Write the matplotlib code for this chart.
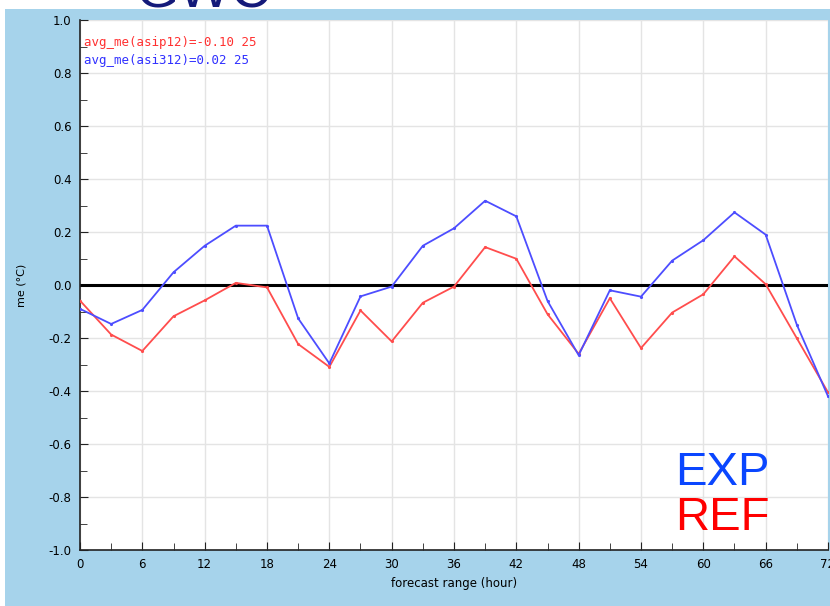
import matplotlib.pyplot as plt
from matplotlib.patches import Rectangle

hours = [0, 3, 6, 9, 12, 15, 18, 21, 24, 27, 30, 33, 36, 39, 42, 45, 48, 51, 54, 57, 60, 63, 66, 69, 72]
exp_me = [-0.09, -0.147, -0.094, 0.048, 0.148, 0.224, 0.224, -0.126, -0.296, -0.043, -0.006, 0.148, 0.214,
          0.318, 0.259, -0.06, -0.265, -0.02, -0.044, 0.092, 0.169, 0.274, 0.19, -0.15, -0.42]
ref_me = [-0.059, -0.187, -0.249, -0.118, -0.058, 0.008, -0.009, -0.223, -0.309, -0.096, -0.213, -0.067, -0.006,
          0.143, 0.099, -0.11, -0.26, -0.05, -0.238, -0.104, -0.035, 0.108, 0.003, -0.201, -0.405]
ref_label = "avg_me(asip12)=-0.10 25"
exp_label = "avg_me(asi312)=0.02 25"
xticks = list(range(0, 73, 6))
yticks = [round(-1 + 0.2 * i, 1) for i in range(11)]

bg = '#a6d3eb'
fig = plt.figure(figsize=(8.3, 6.06), dpi=100)
fig.patch.set_facecolor('white')

# riquadro azzurro
fig.add_artist(Rectangle((5 / 830, 0), 1, (606 - 9) / 606, transform=fig.transFigure,
                         facecolor=bg, edgecolor='none', zorder=1))

# titolo tagliato in alto: si vede solo la striscia bianca
ax_top = fig.add_axes([0, 597 / 606, 1, 9 / 606], zorder=3)
ax_top.set_axis_off()
ax_top.set_xlim(0, 830)
ax_top.set_ylim(597, 606)
ax_top.text(135, 598, "GWC", fontsize=40, color='#141a7a', fontfamily='Liberation Sans',
            va='baseline', ha='left', clip_on=True)

ax = fig.add_axes([80 / 830, 56 / 606, 748 / 830, 530 / 606], zorder=2)
ax.set_facecolor('white')

ax.plot(hours, ref_me, color='#ff4d4d', lw=1.3, marker='.', ms=2.5, zorder=3)
ax.plot(hours, exp_me, color='#4d4dff', lw=1.3, marker='.', ms=2.5, zorder=4)
ax.axhline(0, color='black', lw=2.2, zorder=2)

ax.set_xlim(0, 72)
ax.set_ylim(-1, 1)
ax.set_xticks(xticks)
ax.set_yticks(yticks)
ax.set_yticklabels([f"{v:.1f}" for v in yticks])
ax.set_xticks(range(0, 73, 3), minor=True)
ax.set_yticks([round(-1 + 0.1 * i, 1) for i in range(21)], minor=True)
ax.grid(True, which='major', color='#e4e4e4', lw=1.0)
ax.set_axisbelow(True)
ax.tick_params(which='both', direction='in', length=5, color='#222222', labelsize=8.5, pad=6)
ax.tick_params(which='major', length=6)
for s in ['top', 'right']:
    ax.spines[s].set_visible(False)
for s in ['left', 'bottom']:
    ax.spines[s].set_color('#222222')
    ax.spines[s].set_linewidth(1.2)

ax.set_xlabel("forecast range (hour)", fontsize=8.5, labelpad=4)
ax.set_ylabel("me (°C)", fontsize=8, labelpad=16)

ax.text(0.005, 0.957, ref_label, transform=ax.transAxes, color='#ff3030',
        fontfamily='DejaVu Sans Mono', fontsize=9, va='center')
ax.text(0.005, 0.923, exp_label, transform=ax.transAxes, color='#3030ff',
        fontfamily='DejaVu Sans Mono', fontsize=9, va='center')

ax.text(0.796, 0.123, "EXP", transform=ax.transAxes, color='#0a46ff',
        fontfamily='Liberation Sans', fontsize=34)
ax.text(0.796, 0.038, "REF", transform=ax.transAxes, color='#ff0000',
        fontfamily='Liberation Sans', fontsize=34)

fig.savefig("out.png", dpi=100, facecolor=fig.get_facecolor())
